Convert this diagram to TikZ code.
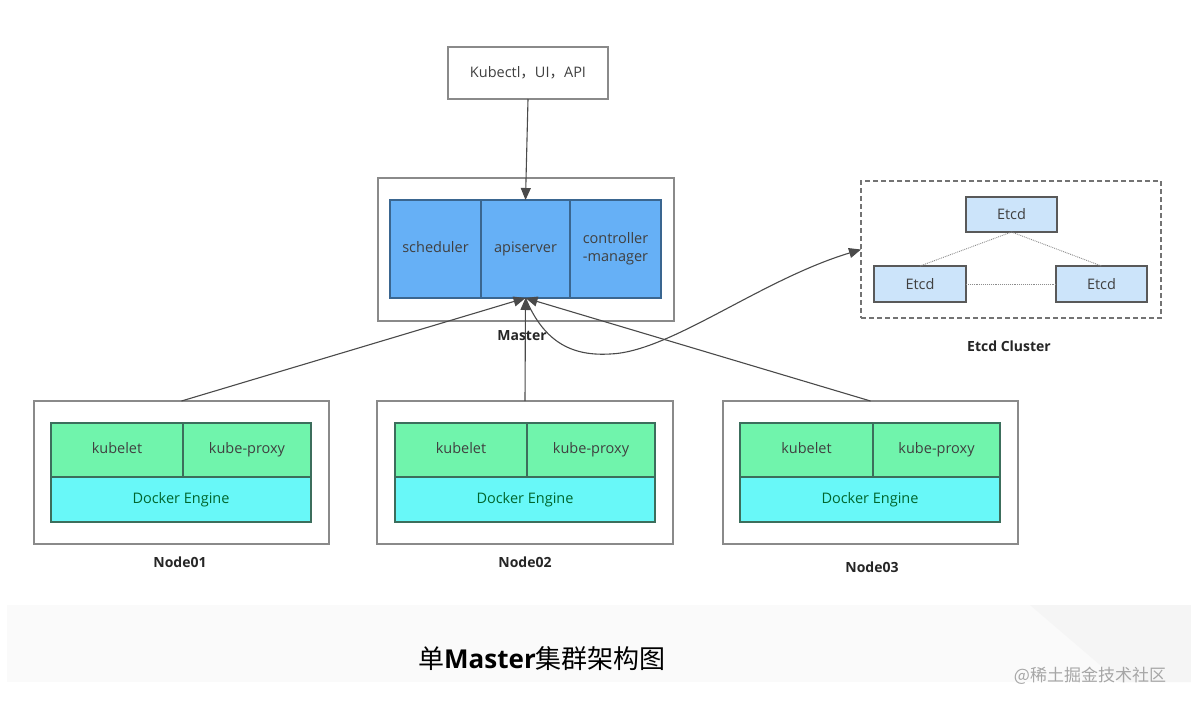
\documentclass[tikz,border=0pt]{standalone}
\usepackage{fontspec}
\setmainfont{Open Sans}
\newfontfamily\cjk{Noto Sans CJK SC}
\usetikzlibrary{arrows.meta}
\definecolor{apiblue}{HTML}{66B0F6}
\definecolor{apiborder}{HTML}{3A6690}
\definecolor{kgreen}{HTML}{70F4AC}
\definecolor{kcyan}{HTML}{68F8F8}
\definecolor{nborder}{HTML}{3C6E5C}
\definecolor{etcdfill}{HTML}{CCE4FA}
\definecolor{boxgray}{HTML}{8A8A8A}
\definecolor{linegray}{HTML}{4A4A4A}
\tikzset{
  outerbox/.style={draw=boxgray, line width=1.5pt, fill=white, inner sep=0pt, outer sep=0pt},
  bluebox/.style={draw=apiborder, line width=1.2pt, fill=apiblue, inner sep=0pt, outer sep=0pt, text=black!75, font=\fontsize{14.5}{17}\selectfont, align=center},
  oneline/.style={text height=10.5pt, text depth=3pt},
  greenbox/.style={draw=nborder, line width=1.2pt, fill=kgreen, inner sep=0pt, outer sep=0pt, text=black!75, font=\fontsize{14.5}{17}\selectfont, minimum height=54pt, oneline},
  cyanbox/.style={draw=nborder, line width=1.2pt, fill=kcyan, inner sep=0pt, outer sep=0pt, text=black!70!blue!60!green, font=\fontsize{14.5}{17}\selectfont, minimum height=45pt, minimum width=260pt, oneline},
  etcdbox/.style={draw=black!65, line width=1.2pt, fill=etcdfill, inner sep=0pt, outer sep=0pt, text=black!75, font=\fontsize{14.5}{17}\selectfont, minimum height=36pt},
  caption/.style={font=\bfseries\fontsize{14}{17}\selectfont, text=black!85},
  arrowline/.style={draw=linegray, line width=1.1pt, -{Triangle[length=12pt,width=10pt]}},
  peerline/.style={draw=black!45, line width=0.9pt, densely dotted}
}
\begin{document}
\begin{tikzpicture}[x=1pt,y=-1pt]
\useasboundingbox (0,0) rectangle (1191,707);
\fill[white] (0,0) rectangle (1191,707);
% bottom band
\fill[black!2] (7,605) rectangle (1191,682);
\fill[black!4] (1030,605) -- (1120,682) -- (1191,682) -- (1191,605) -- cycle;

% client box
\node[outerbox, minimum width=160pt, minimum height=52pt, font=\fontsize{14.5}{17}\selectfont, text=black!75] (kub) at (528,73) {Kubectl{\cjk ，}UI{\cjk ，}API};

% master
\node[outerbox, minimum width=296pt, minimum height=143pt] (master) at (526,249.5) {};
\node[bluebox, oneline, minimum width=91pt, minimum height=98pt] (sched) at (435.5,249) {scheduler};
\node[bluebox, oneline, minimum width=89pt, minimum height=98pt] (api) at (525.5,249) {apiserver};
\node[bluebox, minimum width=91pt, minimum height=98pt] (ctrl) at (615.5,249) {controller\\[1pt]-manager};
\node[caption] (mlabel) at (522,336) {Master};

% etcd cluster
\node[draw=black!55, line width=1.3pt, dash pattern=on 5pt off 3pt, inner sep=0pt, outer sep=0pt, minimum width=300pt, minimum height=137pt] (etcdc) at (1011,249.5) {};
\node[etcdbox, minimum width=91pt, minimum height=35pt] (e1) at (1011.5,214.5) {Etcd};
\node[etcdbox, minimum width=92pt] (e2) at (920,284) {Etcd};
\node[etcdbox, minimum width=91pt] (e3) at (1101.5,284) {Etcd};
\draw[peerline] (e1.south) -- (e2.north);
\draw[peerline] (e1.south) -- (e3.north);
\draw[peerline] (e2.east) -- (e3.west);
\node[caption] (elabel) at (1009,346) {Etcd Cluster};

% worker nodes
\node[outerbox, minimum width=295pt, minimum height=143pt] (n1) at (181.5,472.5) {};
\node[greenbox, minimum width=132pt] (kl1) at (117,450) {kubelet};
\node[greenbox, minimum width=128pt] (kp1) at (247,450) {kube-proxy};
\node[cyanbox] (d1) at (181,499.5) {Docker Engine};
\node[caption] (l1) at (180,562) {Node01};

\node[outerbox, minimum width=296pt, minimum height=143pt] (n2) at (525,472.5) {};
\node[greenbox, minimum width=132pt] (kl2) at (461,450) {kubelet};
\node[greenbox, minimum width=128pt] (kp2) at (591,450) {kube-proxy};
\node[cyanbox] (d2) at (525,499.5) {Docker Engine};
\node[caption] (l2) at (525,562) {Node02};

\node[outerbox, minimum width=295pt, minimum height=143pt] (n3) at (870.5,472.5) {};
\node[greenbox, minimum width=133pt] (kl3) at (806.5,450) {kubelet};
\node[greenbox, minimum width=127pt] (kp3) at (936.5,450) {kube-proxy};
\node[cyanbox] (d3) at (870,499.5) {Docker Engine};
\node[caption] (l3) at (872,567) {Node03};

% connectors
\draw[arrowline] (kub.south) -- (api.north);
\draw[arrowline] (n1.north) -- (api.south);
\draw[arrowline] (n2.north) -- (api.south);
\draw[arrowline] (n3.north) -- (api.south);
\draw[arrowline] (api.south) .. controls (545,345) and (575,356) .. (610,354)
   .. controls (670,352) and (760,280) .. (etcdc.west);

% title
\node[font=\fontsize{26}{30}\selectfont, text=black] (title) at (542,659) {{\cjk 单}\textbf{Master}{\cjk 集群架构图}};
\node[font=\cjk\fontsize{17}{20}\selectfont, text=black!35] (wm) at (1090,676) {@稀土掘金技术社区};
\end{tikzpicture}
\end{document}
